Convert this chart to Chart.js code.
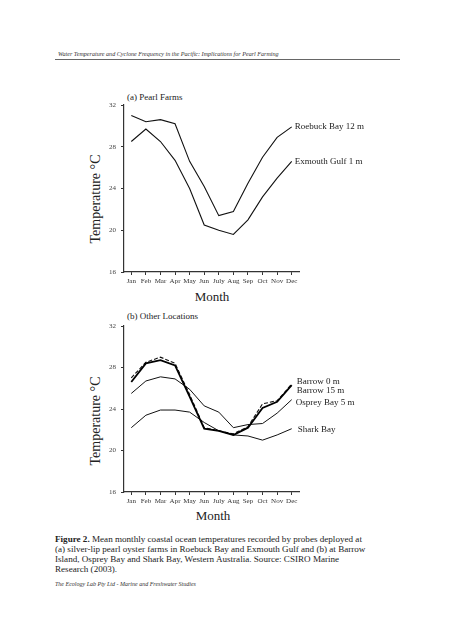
<!DOCTYPE html>
<html>
<head>
<meta charset="utf-8">
<script src="https://cdn.jsdelivr.net/npm/chart.js@4"></script>
<style>
  html, body { margin: 0; padding: 0; background: #fff; width: 452px; height: 640px; overflow: hidden; }
  body { position: relative; font-family: "Liberation Serif", "DejaVu Serif", serif; color: #111; }
  .abs { position: absolute; white-space: nowrap; }
  .cv { position: absolute; left: 0; }
  #hdr { left: 58px; top: 51px; font-size: 6.1px; font-style: italic; color: #333; }
  #hline { position: absolute; left: 55px; top: 59px; width: 345px; height: 1px; background: #666; }
  .ptitle { font-size: 9px; color: #222; }
  .ytitle { font-size: 14px; color: #222; transform: translate(-50%, -50%) rotate(-90deg); }
  .xtitle { font-size: 13px; color: #222; transform: translate(-50%, -50%); }
  #cap { left: 55px; top: 534px; font-size: 9.1px; line-height: 10px; color: #222; }
  #foot { left: 55px; top: 581px; font-size: 6px; font-style: italic; color: #333; }
</style>
</head>
<body>
<div id="hdr" class="abs">Water Temperature and Cyclone Frequency in the Pacific: Implications for Pearl Farming</div>
<div id="hline"></div>

<div class="abs ptitle" style="left:127px; top:92px;">(a) Pearl Farms</div>
<div class="abs ytitle" style="left:96px; top:199px;">Temperature &deg;C</div>
<div class="abs xtitle" style="left:212px; top:297px;">Month</div>
<canvas id="c1" class="cv" width="452" height="215" style="top:80px; width:452px; height:215px;"></canvas>

<div class="abs ptitle" style="left:127px; top:311px;">(b) Other Locations</div>
<div class="abs ytitle" style="left:96px; top:421px;">Temperature &deg;C</div>
<div class="abs xtitle" style="left:213px; top:516px;">Month</div>
<canvas id="c2" class="cv" width="452" height="215" style="top:300px; width:452px; height:215px;"></canvas>

<div id="cap" class="abs"><b>Figure 2.</b> Mean monthly coastal ocean temperatures recorded by probes deployed at<br>(a) silver-lip pearl oyster farms in Roebuck Bay and Exmouth Gulf and (b) at Barrow<br>Island, Osprey Bay and Shark Bay, Western Australia. Source: CSIRO Marine<br>Research (2003).</div>
<div id="foot" class="abs">The Ecology Lab Pty Ltd - Marine and Freshwater Studies</div>

<script>
// ---- data ----
const months = ["Jan","Feb","Mar","Apr","May","Jun","July","Aug","Sep","Oct","Nov","Dec"];
const yTicks = [16, 20, 24, 28, 32];

const roebuckBay = [31.0, 30.4, 30.6, 30.2, 26.6, 24.2, 21.4, 21.8, 24.5, 27.0, 28.9, 29.9];
const exmouthGulf = [28.5, 29.7, 28.5, 26.7, 24.0, 20.5, 20.0, 19.6, 21.0, 23.2, 25.0, 26.6];

const barrow0 = [26.6, 28.4, 28.7, 28.2, 25.2, 22.1, 21.9, 21.5, 22.2, 24.1, 24.7, 26.3];
const barrow15 = [27.0, 28.5, 29.0, 28.4, 25.4, 22.2, 21.9, 21.6, 22.3, 24.5, 24.8, 26.4];
const ospreyBay = [25.5, 26.7, 27.1, 26.9, 25.9, 24.3, 23.7, 22.2, 22.5, 22.6, 23.6, 24.9];
const sharkBay = [22.2, 23.4, 23.9, 23.9, 23.7, 22.7, 21.9, 21.5, 21.4, 21.0, 21.5, 22.1];

const namesA = ["Roebuck Bay 12 m", "Exmouth Gulf 1 m"];
const namesB = ["Barrow 0 m", "Barrow 15 m", "Osprey Bay 5 m", "Shark Bay"];

// ---- style ----
const FONT = '"Liberation Serif", "DejaVu Serif", serif';
const endLabelOffsets = {
  "Roebuck Bay 12 m": [3, 0],
  "Exmouth Gulf 1 m": [3, 0],
  "Barrow 0 m": [5, -3],
  "Barrow 15 m": [5, 7],
  "Osprey Bay 5 m": [4, 3],
  "Shark Bay": [6, 1]
};

const endLabels = {
  id: 'endLabels',
  afterDatasetsDraw(chart) {
    const ctx = chart.ctx;
    const xs = chart.scales.x, ys = chart.scales.y;
    ctx.save();
    ctx.font = '9px ' + FONT;
    ctx.fillStyle = '#222';
    ctx.textBaseline = 'middle';
    ctx.textAlign = 'left';
    chart.data.datasets.forEach(ds => {
      const last = ds.data.length - 1;
      const off = endLabelOffsets[ds.label] || [3, 0];
      const x = xs.getPixelForValue(last) + off[0];
      const y = ys.getPixelForValue(ds.data[last]) + off[1];
      ctx.fillText(ds.label, x, y);
    });
    ctx.restore();
  }
};

function makeChart(id, datasets, padTop) {
  return new Chart(document.getElementById(id), {
    type: 'line',
    data: { labels: months, datasets },
    options: {
      responsive: false,
      animation: false,
      devicePixelRatio: 1,
      layout: { padding: { left: 0, right: 153, top: padTop, bottom: 3 } },
      plugins: { legend: { display: false }, tooltip: { enabled: false }, title: { display: false } },
      elements: { point: { radius: 0 }, line: { tension: 0 } },
      scales: {
        x: {
          type: 'category',
          offset: true,
          grid: { display: true, drawOnChartArea: false, drawTicks: true, tickLength: 3, color: '#333', offset: false },
          border: { display: true, color: '#333', width: 1.2 },
          ticks: { font: { family: FONT, size: 7 }, color: '#333', padding: 2, maxRotation: 0, autoSkip: false },
          afterFit(s) { s.height = 20; }
        },
        y: {
          min: 16, max: 32,
          afterBuildTicks(s) { s.ticks = yTicks.map(v => ({ value: v })); },
          grid: { display: true, drawOnChartArea: false, drawTicks: true, tickLength: 3, color: '#333' },
          border: { display: true, color: '#333', width: 1.2 },
          ticks: { font: { family: FONT, size: 7 }, color: '#444', padding: 5 },
          afterFit(s) { s.width = 124; }
        }
      }
    },
    plugins: [endLabels]
  });
}

makeChart('c1', [
  { label: namesA[0], data: roebuckBay, borderColor: '#111', borderWidth: 1.1 },
  { label: namesA[1], data: exmouthGulf, borderColor: '#111', borderWidth: 1.1 }
], 25);

makeChart('c2', [
  { label: namesB[0], data: barrow0, borderColor: '#000', borderWidth: 1.8 },
  { label: namesB[1], data: barrow15, borderColor: '#111', borderWidth: 1.1, borderDash: [4, 2] },
  { label: namesB[2], data: ospreyBay, borderColor: '#111', borderWidth: 1 },
  { label: namesB[3], data: sharkBay, borderColor: '#111', borderWidth: 1 }
], 26);
</script>
</body>
</html>
